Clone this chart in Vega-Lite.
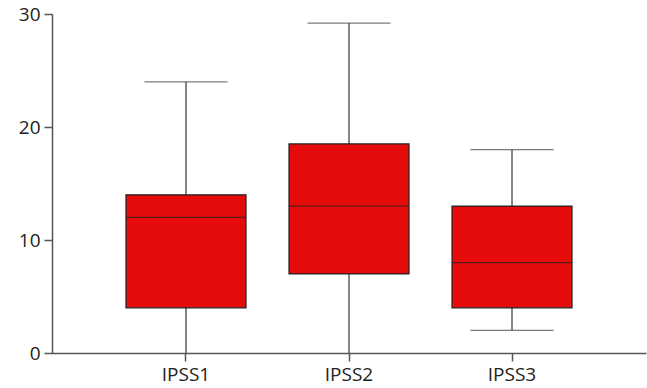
{
  "$schema": "https://vega.github.io/schema/vega-lite/v6.json",
  "width": 594,
  "height": 339,
  "autosize": {"type": "none"},
  "padding": {"left": 52, "top": 14, "right": 1, "bottom": 35},
  "background": "white",
  "config": {"view": {"stroke": null}, "font": "Open Sans"},
  "data": {
    "values": [
      {"group": "IPSS1", "min": 0, "q1": 4, "median": 12, "q3": 14, "max": 24},
      {"group": "IPSS2", "min": 0, "q1": 7, "median": 13, "q3": 18.5, "max": 29.2},
      {"group": "IPSS3", "min": 2, "q1": 4, "median": 8, "q3": 13, "max": 18}
    ]
  },
  "encoding": {
    "x": {
      "field": "group",
      "type": "nominal",
      "sort": null,
      "scale": {"paddingInner": 0, "paddingOuter": 0.322},
      "axis": {
        "title": null,
        "labelAngle": 0,
        "labelFontSize": 19,
        "labelColor": "#222",
        "labelPadding": 4,
        "domainColor": "#555",
        "domainWidth": 1.5,
        "tickColor": "#555",
        "tickWidth": 1.5,
        "tickSize": 8
      }
    }
  },
  "layer": [
    {
      "mark": {"type": "rule", "color": "#444", "strokeWidth": 1.3},
      "encoding": {
        "y": {
          "field": "min",
          "type": "quantitative",
          "scale": {"domain": [0, 30], "nice": false},
          "axis": {
            "title": null,
            "values": [0, 10, 20, 30],
            "grid": false,
            "labelFontSize": 19,
            "labelColor": "#222",
            "labelPadding": 4,
            "domainColor": "#555",
            "domainWidth": 1.5,
            "tickColor": "#555",
            "tickWidth": 1.5,
            "tickSize": 8
          }
        },
        "y2": {"field": "max"}
      }
    },
    {
      "mark": {"type": "tick", "color": "#444", "size": 83, "thickness": 1.3},
      "encoding": {"y": {"field": "max", "type": "quantitative"}}
    },
    {
      "transform": [{"filter": "datum.min > 0"}],
      "mark": {"type": "tick", "color": "#444", "size": 83, "thickness": 1.3},
      "encoding": {"y": {"field": "min", "type": "quantitative"}}
    },
    {
      "mark": {"type": "bar", "size": 120, "fill": "#e50b0b", "stroke": "#222", "strokeWidth": 1.2},
      "encoding": {
        "y": {"field": "q1", "type": "quantitative"},
        "y2": {"field": "q3"}
      }
    },
    {
      "mark": {"type": "tick", "color": "#222", "size": 120, "thickness": 1.2},
      "encoding": {"y": {"field": "median", "type": "quantitative"}}
    }
  ]
}
